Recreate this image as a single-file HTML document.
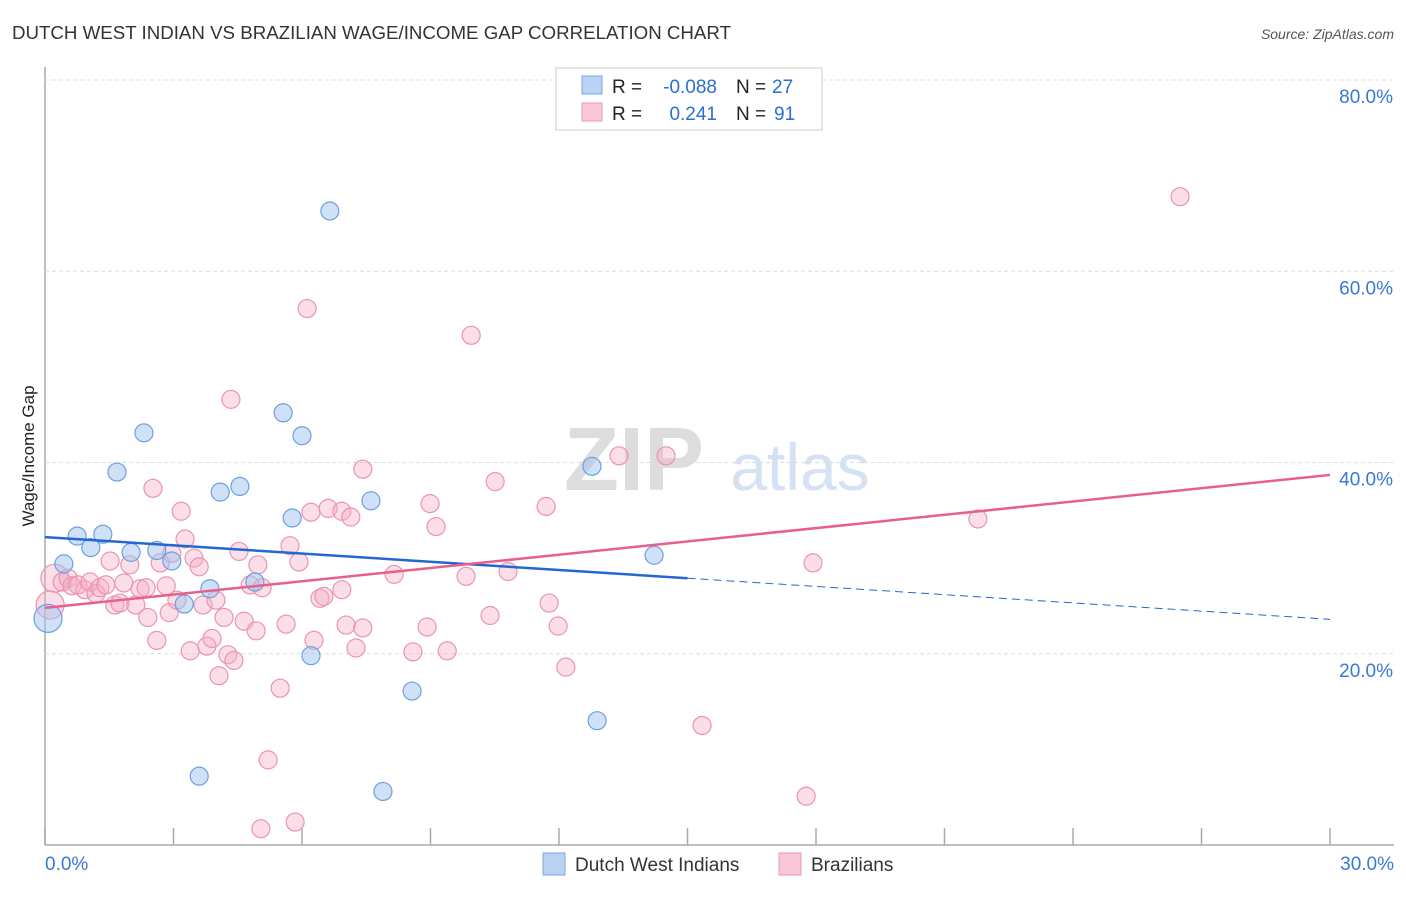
<!DOCTYPE html>
<html><head><meta charset="utf-8"><style>
body{margin:0;background:#fff;font-family:"Liberation Sans",sans-serif}
svg text{font-family:"Liberation Sans",sans-serif}
</style></head><body>
<svg id="c" width="1406" height="892" xmlns="http://www.w3.org/2000/svg">
<text x="12" y="39" font-size="18" fill="#333" textLength="719" lengthAdjust="spacingAndGlyphs">DUTCH WEST INDIAN VS BRAZILIAN WAGE/INCOME GAP CORRELATION CHART</text>
<text x="1394" y="39" font-size="14" fill="#555" text-anchor="end" font-style="italic">Source: ZipAtlas.com</text>
<text x="634" y="490" font-size="90" fill="#ddd" font-family="Liberation Serif" font-weight="bold" text-anchor="middle">ZIP</text>
<text x="800" y="490" font-size="66" fill="#d4e2f4" text-anchor="middle">atlas</text>
<g id="grid"></g><g id="marks"></g>
<text transform="translate(34,456) rotate(-90)" font-size="17" fill="#222" text-anchor="middle">Wage/Income Gap</text>
<g>
<rect x="556" y="68" width="266" height="62" fill="#fff" stroke="#ccc"/>
<rect x="582" y="76" width="20" height="18" fill="#b8d3f5" stroke="#7aa6e0"/>
<rect x="582" y="103" width="20" height="18" fill="#f9c7d6" stroke="#ea98b2"/>
<text x="612" y="93" font-size="19" fill="#222">R =</text>
<text x="717" y="93" font-size="19" fill="#2a6fd1" text-anchor="end">-0.088</text>
<text x="736" y="93" font-size="19" fill="#222">N =</text>
<text x="772" y="93" font-size="19" fill="#2a6fd1">27</text>
<text x="612" y="120" font-size="19" fill="#222">R =</text>
<text x="717" y="120" font-size="19" fill="#2a6fd1" text-anchor="end">0.241</text>
<text x="736" y="120" font-size="19" fill="#222">N =</text>
<text x="774" y="120" font-size="19" fill="#2a6fd1">91</text>
</g>
<g>
<rect x="543" y="853" width="22" height="22" fill="#b8d3f5" stroke="#7aa6e0"/>
<text x="575" y="871" font-size="19" fill="#333">Dutch West Indians</text>
<rect x="779" y="853" width="22" height="22" fill="#f9c7d6" stroke="#ea98b2"/>
<text x="811" y="871" font-size="19" fill="#333">Brazilians</text>
</g>
</svg>
<script>
const yTicks=[20,40,60,80];
const xTicks=[0,3,6,9,12,15,18,21,24,27,30];
const blueX=[0.07,0.44,0.75,1.07,1.35,1.68,2.01,2.31,2.61,2.96,3.25,3.85,4.09,4.55,4.90,5.56,5.77,6.00,6.21,6.65,7.61,8.57,12.77,12.89,14.22,3.60,7.89];
const blueY=[23.7,29.4,32.3,31.1,32.5,39.0,30.6,43.1,30.8,29.7,25.2,26.8,36.9,37.5,27.5,45.2,34.2,42.8,19.8,66.3,36.0,16.1,39.6,13.0,30.3,7.2,5.6];
const pinkX=[0.12,0.23,0.40,0.54,0.63,0.77,0.93,1.05,1.19,1.28,1.42,1.52,1.63,1.75,1.84,1.98,2.12,2.22,2.36,2.40,2.52,2.61,2.69,2.83,2.90,2.96,3.08,3.18,3.27,3.39,3.48,3.60,3.69,3.78,3.90,3.99,4.06,4.18,4.27,4.34,4.41,4.53,4.65,4.79,4.93,5.07,5.21,5.04,5.49,5.63,5.72,5.84,5.93,6.12,6.21,6.28,6.42,6.51,6.61,6.93,7.03,7.14,7.26,7.42,7.42,8.15,8.59,8.92,8.99,9.13,9.39,9.95,9.83,10.39,10.51,10.81,11.70,11.77,11.98,12.16,13.40,14.50,15.34,17.77,17.93,21.78,26.50,4.97,6.93];
const pinkY=[25.1,27.9,27.5,27.9,27.1,27.2,26.7,27.5,26.3,26.9,27.2,29.7,25.1,25.3,27.4,29.3,25.1,26.8,26.9,23.8,37.3,21.4,29.5,27.1,24.3,30.5,25.6,34.9,32.0,20.3,30.0,29.1,25.1,20.8,21.6,25.6,17.7,23.8,19.9,46.6,19.3,30.7,23.4,27.2,22.4,26.9,8.9,1.7,16.4,23.1,31.3,2.4,29.6,56.1,34.8,21.4,25.8,26.0,35.2,34.9,23.0,34.3,20.6,22.7,39.3,28.3,20.2,22.8,35.7,33.3,20.3,53.3,28.1,24.0,38.0,28.6,35.4,25.3,22.9,18.6,40.7,40.7,12.5,5.1,29.5,34.1,67.8,29.3,26.7];
const blueTrend=[32.2,23.6], blueSolidEnd=15;
const pinkTrend=[24.8,38.7];
const X0=45,X1=1330,Y0=845,Y80=80;
const sx=v=>X0+(X1-X0)*v/30, sy=v=>Y0-(Y0-Y80)*v/80;
const NS="http://www.w3.org/2000/svg";
const grid=document.getElementById('grid'), marks=document.getElementById('marks');
function mk(p,tag,a){const e=document.createElementNS(NS,tag);for(const k in a)e.setAttribute(k,a[k]);p.appendChild(e);return e;}
let ax=mk(grid,'line',{x1:X0,y1:67,x2:X0,y2:Y0,stroke:'#aaa','stroke-width':1.5});


let bx=mk(grid,'line',{x1:X0,y1:Y0,x2:1394,y2:Y0,stroke:'#aaa','stroke-width':1.5});


yTicks.forEach(t=>{
 let g=mk(grid,'line',{x1:X0,y1:sy(t),x2:1394,y2:sy(t),stroke:'#ddd','stroke-dasharray':'4,3'});
 
 
 let l=mk(grid,'text',{x:1393,y:sy(t)+23,'font-size':19,fill:'#3a78d4','text-anchor':'end'});
 l.textContent=t.toFixed(1)+'%';
 
 
});
xTicks.forEach(t=>{
 let g=mk(grid,'line',{x1:sx(t),y1:828,x2:sx(t),y2:Y0,stroke:'#aaa','stroke-width':1.5});
 
 
});
[[0,'start',X0],[30,'end',1394]].forEach(([t,a,x])=>{
 let l=mk(grid,'text',{x:x,y:870,'font-size':19,fill:'#3a78d4','text-anchor':a});
 l.textContent=t.toFixed(1)+'%';
 
 
});
pinkX.forEach((x,i)=>{
 let c=mk(marks,'circle',{cx:sx(x),cy:sy(pinkY[i]),r:i<2?14:9,fill:'rgba(246,172,197,0.4)',stroke:'#eb94b0','stroke-width':1.2});
 
 
});
blueX.forEach((x,i)=>{
 let c=mk(marks,'circle',{cx:sx(x),cy:sy(blueY[i]),r:i<1?14:9,fill:'rgba(160,196,240,0.5)',stroke:'#6f9fe0','stroke-width':1.2});
 
 
});
const bAt=x=>blueTrend[0]+(blueTrend[1]-blueTrend[0])*x/30;
let l1=mk(marks,'line',{x1:sx(0),y1:sy(bAt(0)),x2:sx(blueSolidEnd),y2:sy(bAt(blueSolidEnd)),stroke:'#2268d0','stroke-width':2.5});


let l2=mk(marks,'line',{x1:sx(blueSolidEnd),y1:sy(bAt(blueSolidEnd)),x2:sx(30),y2:sy(bAt(30)),stroke:'#2268d0','stroke-width':1,'stroke-dasharray':'8,5'});


let l3=mk(marks,'line',{x1:sx(0),y1:sy(pinkTrend[0]),x2:sx(30),y2:sy(pinkTrend[1]),stroke:'#e8608a','stroke-width':2.5});


</script>
</body></html>
